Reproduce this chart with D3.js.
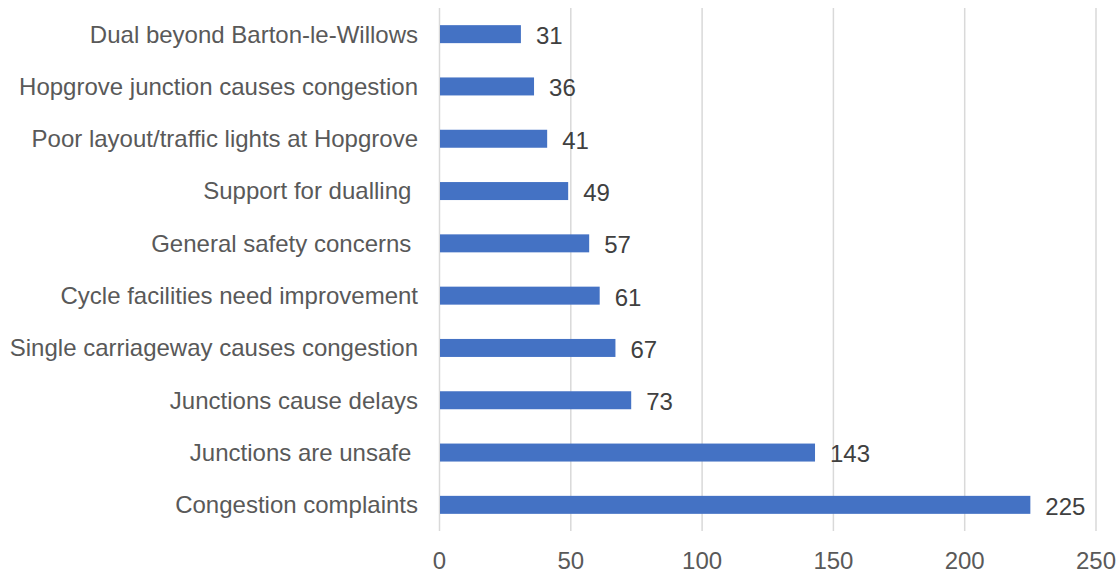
<!DOCTYPE html>
<html><head><meta charset="utf-8">
<script src="https://cdn.jsdelivr.net/npm/d3@7"></script>
<style>
body{margin:0;background:#fff;}
text{font-family:"Liberation Sans",Arial,sans-serif;white-space:pre;}
</style></head>
<body><svg id="c" width="1120" height="571"></svg>
<script>
const categories = ["Dual beyond Barton-le-Willows","Hopgrove junction causes congestion","Poor layout/traffic lights at Hopgrove","Support for dualling ","General safety concerns ","Cycle facilities need improvement","Single carriageway causes congestion","Junctions cause delays","Junctions are unsafe ","Congestion complaints"];
const values = [31,36,41,49,57,61,67,73,143,225];
const ticks = [0,50,100,150,200,250];

const svg = d3.select("#c");
const x = d3.scaleLinear().domain([0,250]).range([439.5,1096]);
const y = d3.scaleBand().domain(categories).range([8,531]).paddingInner(0.656).paddingOuter(0.328);

svg.append("g").selectAll("line").data(ticks).join("line")
  .attr("x1",d=>x(d)).attr("x2",d=>x(d)).attr("y1",8).attr("y2",531)
  .attr("stroke","#d9d9d9").attr("stroke-width",1.5);

svg.append("g").selectAll("rect").data(values).join("rect")
  .attr("x",x(0)+0.5).attr("y",(d,i)=>y(categories[i]))
  .attr("width",d=>x(d)-x(0)-0.5).attr("height",y.bandwidth())
  .attr("fill","#4472c4");

svg.append("g").selectAll("text").data(values).join("text")
  .attr("x",d=>x(d)+15).attr("y",(d,i)=>y(categories[i])+y.bandwidth()/2+1.5)
  .attr("dy","0.35em").attr("font-size",24).attr("fill","#404040").text(d=>d);

svg.append("g").selectAll("text").data(categories).join("text")
  .attr("x",418).attr("y",d=>y(d)+y.bandwidth()/2).attr("dy","0.35em")
  .attr("text-anchor","end").attr("font-size",24).attr("fill","#595959").text(d=>d);

svg.append("g").selectAll("text").data(ticks).join("text")
  .attr("x",d=>x(d)).attr("y",561).attr("dy","0.35em")
  .attr("text-anchor","middle").attr("font-size",24).attr("fill","#595959").text(d=>d);
</script></body></html>
